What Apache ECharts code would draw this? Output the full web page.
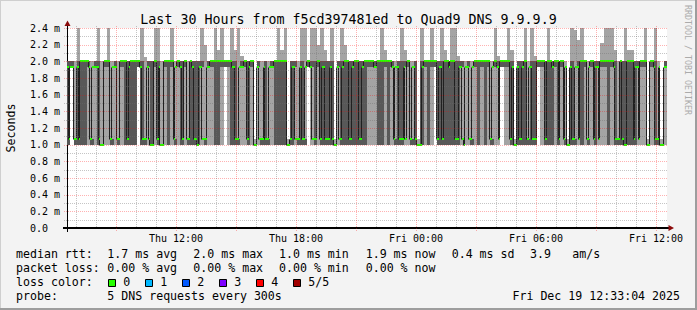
<!DOCTYPE html>
<html>
<head>
<meta charset="utf-8">
<script src="https://cdn.jsdelivr.net/npm/echarts@6/dist/echarts.min.js"></script>
<style>
html,body{margin:0;padding:0;background:#f3f3f3;}
#c{width:697px;height:310px;}
</style>
</head>
<body>
<div id="c"></div>
<script>
// ---------------- data ----------------
const titleText = 'Last 30 Hours from f5cd397481ed to Quad9 DNS 9.9.9.9';
const startMin = 393;   // Thu 06:33, minutes since Thu 00:00
const endMin = 2193;    // Fri 12:33
const stepMin = 10;
const dayNames = ['Thu', 'Fri'];
const xLabelTimes = [720, 1080, 1440, 1800, 2160];
const yTicks = [0, 0.2, 0.4, 0.6, 0.8, 1.0, 1.2, 1.4, 1.6, 1.8, 2.0, 2.2, 2.4];

// median rtt (ms), first 5 minutes of each step
const medianMs = [
 1.93,1.93,1.07,1.93,2.0,2.0,2.0,1.07,1.93,1.93, 1.0,2.0,2.0,1.07,1.93,1.07,2.0,2.0,1.07,2.0, 2.0,2.0,1.93,1.07,1.93,1.0,2.0,1.07,1.0,2.0,
 2.0,2.0,1.07,2.0,1.93,2.0,1.07,2.0,1.07,1.0, 1.93,1.07,1.93,2.0,2.0,2.0,2.0,2.0,2.0,2.0, 1.93,1.07,1.93,2.0,1.07,2.0,1.0,1.93,1.07,1.93,
 1.07,1.93,2.0,2.0,2.0,2.0,1.0,1.07,1.93,1.07, 1.93,1.07,2.0,1.93,1.07,2.0,1.07,1.93,1.07,1.93, 1.0,1.93,1.07,2.0,2.0,1.07,2.0,2.0,1.07,2.0,
 2.0,2.0,1.93,2.0,2.0,2.0,2.0,2.0,1.07,1.93, 1.07,1.93,2.0,1.07,1.93,1.0,1.0,2.0,2.0,2.0, 2.0,1.07,1.93,2.0,2.0,2.0,2.0,1.07,1.93,1.0,
 1.93,1.07,2.0,2.0,2.0,2.0,2.0,1.07,2.0,1.93, 2.0,2.0,2.0,1.07,1.0,1.93,1.07,2.0,1.07,1.93, 1.07,2.0,2.0,2.0,2.0,2.0,2.0,2.0,2.0,1.07,
 1.0,1.93,1.07,1.93,2.0,2.0,1.07,2.0,1.07,1.93, 2.0,2.0,2.0,2.0,1.93,1.07,2.0,1.0,2.0,2.0, 1.07,1.93,2.0,2.0,1.0,2.0,1.93,1.07,1.0,1.93
];
// median rtt (ms), last 5 minutes of each step
const medianLateMs = [
 1.07,1.93,1.07,1.07,2.0,2.0,1.93,1.93,1.93,1.07, 1.0,2.0,2.0,1.93,1.93,1.07,2.0,2.0,1.93,2.0, 2.0,2.0,1.07,1.07,1.07,1.0,2.0,1.93,1.0,2.0,
 2.0,2.0,1.93,2.0,1.07,2.0,1.07,1.93,1.07,1.93, 1.07,1.07,1.93,2.0,2.0,2.0,2.0,2.0,2.0,1.93, 1.07,1.93,1.93,2.0,1.93,2.0,1.0,1.07,1.07,1.07,
 1.93,1.93,2.0,2.0,2.0,2.0,1.0,1.93,1.07,1.07, 1.07,1.93,2.0,1.07,1.07,2.0,1.93,1.07,1.07,1.07, 1.0,1.07,1.93,2.0,1.07,1.93,2.0,1.07,1.93,2.0,
 2.0,2.0,1.93,2.0,2.0,2.0,2.0,1.93,1.93,1.07, 1.07,1.07,2.0,1.93,1.07,1.0,1.93,2.0,2.0,2.0, 2.0,1.93,1.07,2.0,1.93,2.0,1.07,1.93,1.07,1.93,
 1.07,1.93,2.0,2.0,2.0,2.0,2.0,1.93,2.0,1.07, 2.0,2.0,2.0,1.93,1.0,1.07,1.93,2.0,1.93,1.07, 1.07,2.0,2.0,1.07,2.0,1.93,2.0,1.07,2.0,1.93,
 1.0,1.07,1.93,1.07,2.0,2.0,1.93,2.0,1.93,1.07, 2.0,2.0,2.0,2.0,1.07,1.07,1.07,1.0,2.0,2.0, 1.93,1.07,2.0,2.0,1.0,2.0,1.07,1.93,1.0,1.93
];
// smallest ping (ms)
const minMs = [
 1.0,1.93,1.0,1.0,1.0,1.0,1.0,1.0,1.0,1.0, 1.0,1.0,1.0,1.0,1.0,1.0,1.0,1.0,1.0,1.0, 1.0,1.93,1.0,1.0,1.0,1.0,1.0,1.0,1.0,1.0,
 1.0,1.0,1.0,1.0,1.0,1.0,1.0,1.0,1.0,1.0, 1.0,1.0,1.0,1.0,1.0,1.0,1.0,1.93,1.0,1.0, 1.0,1.0,1.0,1.0,1.0,1.0,1.0,1.0,1.0,1.0,
 1.0,1.0,1.0,1.0,1.0,1.0,1.0,1.0,1.0,1.0, 1.0,1.0,1.93,1.0,1.0,1.0,1.0,1.0,1.0,1.0, 1.0,1.0,1.0,1.0,1.0,1.0,1.0,1.0,1.0,1.0,
 1.0,1.0,1.0,1.0,1.0,1.0,1.0,1.0,1.0,1.0, 1.0,1.0,1.0,1.0,1.0,1.0,1.0,1.0,1.0,1.0, 1.93,1.0,1.0,1.0,1.0,1.0,1.0,1.0,1.0,1.0,
 1.0,1.0,1.0,1.0,1.0,1.0,1.0,1.0,1.0,1.0, 1.93,1.0,1.0,1.0,1.0,1.0,1.0,1.0,1.0,1.0, 1.0,1.93,1.0,1.0,1.0,1.0,1.0,1.0,1.0,1.0,
 1.0,1.0,1.0,1.0,1.0,1.0,1.0,1.0,1.0,1.0, 1.0,1.0,1.0,1.0,1.0,1.0,1.0,1.0,1.0,1.0, 1.0,1.0,1.0,1.0,1.0,1.0,1.0,1.0,1.0,1.0
];
// second ping (ms)
const lowMs = [
 1.0,1.93,1.0,1.0,1.0,1.0,1.93,1.0,1.93,1.0, 1.0,1.93,1.93,1.0,1.93,1.0,1.93,1.0,1.0,1.0, 1.0,1.93,1.0,1.0,1.93,1.0,1.93,1.0,1.0,1.93,
 1.0,1.93,1.0,1.93,1.0,1.93,1.0,1.0,1.0,1.0, 1.93,1.0,1.93,1.93,1.0,1.0,1.93,1.93,1.93,1.0, 1.0,1.0,1.93,1.93,1.0,1.93,1.0,1.93,1.0,1.0,
 1.0,1.93,1.0,1.0,1.0,1.0,1.0,1.0,1.93,1.0, 1.0,1.0,1.93,1.93,1.0,1.93,1.0,1.0,1.0,1.0, 1.0,1.93,1.0,1.0,1.0,1.0,1.0,1.0,1.0,1.0,
 1.93,1.93,1.93,1.0,1.0,1.93,1.0,1.93,1.0,1.0, 1.0,1.93,1.93,1.0,1.0,1.0,1.0,1.93,1.0,1.93, 1.93,1.0,1.0,1.0,1.0,1.0,1.0,1.0,1.93,1.0,
 1.93,1.0,1.93,1.0,1.93,1.0,1.93,1.0,1.93,1.93, 1.93,1.93,1.93,1.0,1.0,1.0,1.0,1.0,1.0,1.0, 1.0,1.93,1.93,1.0,1.0,1.0,1.93,1.0,1.93,1.0,
 1.0,1.0,1.0,1.93,1.0,1.93,1.0,1.93,1.0,1.93, 1.93,1.93,1.0,1.93,1.0,1.0,1.0,1.0,1.0,1.0, 1.0,1.93,1.93,1.93,1.0,1.93,1.0,1.0,1.0,1.93
];
// fourth ping (ms)
const highMs = [
 2.0,2.0,1.07,2.0,2.0,2.0,2.0,1.07,2.0,2.0, 1.0,2.0,2.0,1.07,2.0,1.07,2.0,2.0,2.0,2.0, 2.0,2.0,2.0,1.07,2.0,2.0,2.0,2.0,1.0,2.0,
 2.0,2.0,1.07,2.0,2.0,2.0,1.07,2.0,2.0,2.0, 2.0,1.07,2.0,2.0,2.0,2.0,2.0,2.0,2.0,2.0, 2.0,1.07,2.0,2.0,2.0,2.0,1.0,2.0,1.07,2.0,
 1.07,2.0,2.0,2.0,2.0,2.0,1.0,2.0,2.0,1.07, 2.0,1.07,2.0,2.0,2.0,2.0,2.0,2.0,2.0,2.0, 1.0,2.0,2.0,2.0,2.0,2.0,2.0,2.0,2.0,2.0,
 2.0,2.0,2.0,2.0,2.0,2.0,2.0,2.0,1.07,2.0, 2.0,2.0,2.0,1.07,2.0,1.0,2.0,2.0,2.0,2.0, 2.0,2.0,2.0,2.0,2.0,2.0,2.0,2.0,2.0,1.0,
 2.0,1.07,2.0,2.0,2.0,2.0,2.0,1.07,2.0,2.0, 2.0,2.0,2.0,2.0,1.0,2.0,2.0,2.0,1.07,2.0, 2.0,2.0,2.0,2.0,2.0,2.0,2.0,2.0,2.0,1.07,
 1.0,2.0,1.07,2.0,2.0,2.0,1.07,2.0,2.0,2.0, 2.0,2.0,2.0,2.0,2.0,1.07,2.0,2.0,2.0,2.0, 2.0,2.0,2.0,2.0,1.0,2.0,2.0,1.07,1.0,2.0
];
// largest ping (ms)
const maxMs = [
 2.0,2.0,2.0,2.45,2.0,2.0,2.0,2.0,2.0,2.45, 2.0,2.0,2.45,2.0,2.0,2.0,2.0,2.0,2.0,2.0, 2.0,2.0,2.45,2.05,2.0,2.0,2.45,2.45,2.0,2.0,
 2.0,2.45,2.0,2.0,2.0,2.0,2.0,2.0,2.0,2.0, 2.45,2.2,2.0,2.0,2.45,2.14,2.45,2.0,2.0,2.45, 2.14,2.45,2.06,2.0,2.0,2.0,1.07,2.0,2.0,2.0,
 2.0,2.0,2.0,2.45,2.14,2.45,1.07,2.0,2.0,2.0, 2.45,2.45,2.0,2.45,2.45,2.2,2.45,2.14,2.0,2.45, 1.07,2.0,2.45,2.2,2.0,2.0,2.0,2.0,2.0,2.0,
 2.0,2.0,2.0,2.0,2.45,2.14,2.0,2.0,2.0,2.0, 2.45,2.14,2.0,2.0,2.0,1.07,2.45,2.0,2.0,2.45, 2.0,2.0,2.45,2.14,2.0,2.45,2.45,2.06,2.0,2.0,
 2.0,2.0,2.0,2.0,2.0,2.0,2.0,2.0,2.45,2.06, 2.0,2.0,2.45,2.14,1.07,2.0,2.0,2.45,2.0,2.45, 2.06,2.0,2.0,2.0,2.45,2.0,2.0,2.0,2.0,2.0,
 1.07,2.45,2.38,2.26,2.45,2.0,2.0,2.0,2.0,2.0, 2.22,2.45,2.45,2.45,2.14,2.0,2.0,2.45,2.14,2.14, 2.0,2.0,2.0,2.45,1.07,2.0,2.45,2.0,1.07,2.0
];

const lossLabels = ['0', '1', '2', '3', '4', '5/5'];
const lossColors = ['#26ff00', '#00b8ff', '#0059ff', '#7e00ff', '#ff0000', '#a10000'];
const rttStats = ['1.7 ms avg', '2.0 ms max', '1.0 ms min', '1.9 ms now', '0.4 ms sd', '3.9', 'am/s'];
const lossStats = ['0.00 % avg', '0.00 % max', '0.00 % min', '0.00 % now'];
const probeText = '5 DNS requests every 300s';
const stampText = 'Fri Dec 19 12:33:04 2025';

// ---------------- chart ----------------
const MONO = '"DejaVu Sans Mono", monospace';
const MAJOR = 'rgba(255,0,0,0.3)';
const MINOR = 'rgba(110,110,110,0.4)';
const chart = echarts.init(document.getElementById('c'), null, { renderer: 'svg' });

function clockLabel(v) {
  const d = Math.floor(v / 1440);
  const m = v - d * 1440;
  const hh = String(Math.floor(m / 60)).padStart(2, '0');
  const mm = String(m % 60).padStart(2, '0');
  return dayNames[d] + ' ' + hh + ':' + mm;
}

const hourTicks = [];
for (let t = Math.ceil(startMin / 60) * 60; t <= endMin; t += 60) hourTicks.push(t);
const hGrid = [];
for (let k = 1; k <= 24; k++) hGrid.push([startMin, k / 10, k % 2 === 0 ? 1 : 0]);
const vGrid = hourTicks.map(t => [t, 0, t % 180 === 0 ? 1 : 0]);

const smokeData = minMs.map((v, i) => [startMin + i * stepMin, v, lowMs[i], highMs[i], maxMs[i]]);
const medData = medianMs.map((v, i) => [startMin + i * stepMin, v, medianLateMs[i], i + 1 < medianMs.length ? medianMs[i + 1] : medianLateMs[i]]);

function colX(api, t) { return Math.round(api.coord([t, 0])[0]); }
function rowY(api, v) { return Math.round(api.coord([startMin, v])[1]); }

function renderSmoke(params, api) {
  const t0 = api.value(0);
  const xa = colX(api, t0), xb = colX(api, t0 + stepMin);
  const children = [];
  const y1 = rowY(api, api.value(1)), y5 = rowY(api, api.value(4));
  if (y1 > y5) children.push({ type: 'rect', shape: { x: xa, y: y5, width: xb - xa, height: y1 - y5 }, style: { fill: '#a4a4a4' } });
  const y2 = rowY(api, api.value(2)), y4 = rowY(api, api.value(3));
  if (y2 > y4) children.push({ type: 'rect', shape: { x: xa, y: y4, width: xb - xa, height: y2 - y4 }, style: { fill: '#585858' } });
  return { type: 'group', children };
}

function seg(x1, y1, x2, y2) {
  return { type: 'line', shape: { x1, y1, x2, y2 }, style: { stroke: '#202020', lineWidth: 1 } };
}

function renderMedianLine(params, api) {
  const t0 = api.value(0);
  const xa = colX(api, t0), xm = colX(api, t0 + stepMin / 2), xb = colX(api, t0 + stepMin);
  const y1 = rowY(api, api.value(1)) + 0.5;
  const y2 = rowY(api, api.value(2)) + 0.5;
  const yn = rowY(api, api.value(3)) + 0.5;
  const children = [seg(xa, y1, xm, y1), seg(xm, y2, xb, y2)];
  if (y2 !== y1) children.push(seg(xm - 0.5, y1, xm - 0.5, y2));
  if (yn !== y2 && params.dataIndex < medianMs.length - 1) children.push(seg(xb - 0.5, y2, xb - 0.5, yn));
  return { type: 'group', children };
}

function renderLossColor(params, api) {
  const t0 = api.value(0);
  const xa = colX(api, t0), xm = colX(api, t0 + stepMin / 2), xb = colX(api, t0 + stepMin);
  const y1 = rowY(api, api.value(1)), y2 = rowY(api, api.value(2));
  return {
    type: 'group', children: [
      { type: 'rect', shape: { x: xa, y: y1 - 1, width: xm - xa, height: 2 }, style: { fill: lossColors[0] } },
      { type: 'rect', shape: { x: xm, y: y2 - 1, width: xb - xm, height: 2 }, style: { fill: lossColors[0] } }
    ]
  };
}

function renderHGrid(params, api) {
  const cs = params.coordSys;
  const y = Math.round(api.coord([startMin, api.value(1)])[1]) + 0.5;
  return { type: 'line', shape: { x1: cs.x - 3, y1: y, x2: cs.x + cs.width + 1, y2: y },
    style: { stroke: api.value(2) ? MAJOR : MINOR, lineWidth: 1, lineDash: [1, 1] } };
}

function renderVGrid(params, api) {
  const cs = params.coordSys;
  const major = api.value(2);
  const x = Math.round(api.coord([api.value(0), 0])[0]) + 0.5;
  return { type: 'line', shape: { x1: x, y1: cs.y - 2, x2: x, y2: cs.y + cs.height + (major ? 4 : 0) },
    style: { stroke: major ? MAJOR : MINOR, lineWidth: 1, lineDash: [1, 1] } };
}

chart.setOption({
  animation: false,
  backgroundColor: '#f3f3f3',
  textStyle: { fontFamily: MONO },
  grid: { left: 67, right: 30, top: 28, bottom: 82, show: true, backgroundColor: '#ffffff', borderWidth: 0, outerBoundsMode: 'none' },
  xAxis: {
    type: 'value', min: startMin, max: endMin,
    axisLine: { show: true, lineStyle: { color: '#000', width: 2 } },
    axisTick: { show: false },
    axisLabel: { customValues: xLabelTimes, formatter: clockLabel, fontFamily: MONO, fontSize: 10, color: '#000', margin: 5 },
    splitLine: { show: false }
  },
  yAxis: {
    type: 'value', min: 0, max: 2.4, interval: 0.2,
    axisLine: { show: true, lineStyle: { color: '#000', width: 1 } },
    axisTick: { show: false },
    axisLabel: {
      fontFamily: MONO, fontSize: 10, color: '#000', align: 'left', margin: 37,
      formatter: v => (Math.abs(v) < 1e-9 ? '0.0' : v.toFixed(1) + ' m')
    },
    splitLine: { show: false }
  },
  series: [
    { type: 'custom', name: 'smoke', renderItem: renderSmoke, data: smokeData, encode: { x: 0, y: [1, 4] }, clip: true, silent: true, z: 2 },
    { type: 'custom', name: 'median', renderItem: renderMedianLine, data: medData, encode: { x: 0, y: [1, 2] }, clip: true, silent: true, z: 3 },
    { type: 'custom', name: 'loss 0', renderItem: renderLossColor, data: medData, encode: { x: 0, y: [1, 2] }, clip: true, silent: true, z: 4 },
    { type: 'custom', name: 'hgrid', renderItem: renderHGrid, data: hGrid, encode: { x: 0, y: 1 }, clip: false, silent: true, z: 5 },
    { type: 'custom', name: 'vgrid', renderItem: renderVGrid, data: vGrid, encode: { x: 0, y: 1 }, clip: false, silent: true, z: 5 }
  ]
});

// decorations: frame, axis extensions, arrows, texts
const pO = chart.convertToPixel({ gridIndex: 0 }, [startMin, 0]);
const pTop = chart.convertToPixel({ gridIndex: 0 }, [startMin, 2.4]);
const pEnd = chart.convertToPixel({ gridIndex: 0 }, [endMin, 0]);
const ax = Math.round(pO[0]) + 0.5, ay = Math.round(pO[1]);
const ex = Math.round(pEnd[0]);
const arrowColor = '#8b0a0a';

function txt(x, y, s, opts) {
  opts = opts || {};
  return {
    type: 'text', x: x, y: y, rotation: opts.rotation || 0, silent: true, z: 30,
    style: {
      text: s, x: 0, y: 0, fill: opts.color || '#000',
      font: (opts.size || 11.6) + 'px ' + MONO,
      textAlign: opts.align || 'left', align: opts.align || 'left',
      textVerticalAlign: 'middle', verticalAlign: 'middle'
    }
  };
}

const g = [];
// frame
g.push({ type: 'rect', shape: { x: 0, y: 0, width: 697, height: 1 }, style: { fill: '#cfcfcf' }, silent: true });
g.push({ type: 'rect', shape: { x: 0, y: 0, width: 1, height: 310 }, style: { fill: '#cfcfcf' }, silent: true });
g.push({ type: 'rect', shape: { x: 0, y: 308, width: 697, height: 2 }, style: { fill: '#9d9d9d' }, silent: true });
g.push({ type: 'rect', shape: { x: 695, y: 0, width: 2, height: 310 }, style: { fill: '#9d9d9d' }, silent: true });
// axis extensions
g.push({ type: 'line', shape: { x1: ax, y1: Math.round(pTop[1]), x2: ax, y2: 25 }, style: { stroke: '#000', lineWidth: 1 }, silent: true, z: 20 });
g.push({ type: 'line', shape: { x1: ax, y1: ay, x2: ax, y2: ay + 4 }, style: { stroke: '#000', lineWidth: 1 }, silent: true, z: 20 });
g.push({ type: 'line', shape: { x1: ax - 4.5, y1: ay, x2: ax, y2: ay }, style: { stroke: '#000', lineWidth: 2 }, silent: true, z: 20 });
g.push({ type: 'line', shape: { x1: ex, y1: ay, x2: ex + 2, y2: ay }, style: { stroke: '#000', lineWidth: 2 }, silent: true, z: 20 });
// arrows
g.push({ type: 'polygon', shape: { points: [[ax, 20.5], [ax - 3, 26], [ax + 3, 26]] }, style: { fill: arrowColor }, silent: true, z: 21 });
g.push({ type: 'polygon', shape: { points: [[ex + 7, ay], [ex + 1.5, ay - 3], [ex + 1.5, ay + 3]] }, style: { fill: arrowColor }, silent: true, z: 21 });
// title & side texts
g.push(txt(348.5, 19, titleText, { size: 13.3, align: 'center' }));
g.push(txt(11, 128, 'Seconds', { rotation: Math.PI / 2, align: 'center' }));
g.push(txt(688, 60, 'RRDTOOL / TOBI OETIKER', { rotation: -Math.PI / 2, align: 'center', size: 8.3, color: '#ababab' }));
// legend rows
const statX = [107.3, 193.3, 279, 365.7, 451.7, 530, 572.3];
g.push(txt(16, 254, 'median rtt:'));
rttStats.forEach((s, i) => g.push(txt(statX[i], 254, s)));
g.push(txt(16, 268, 'packet loss:'));
lossStats.forEach((s, i) => g.push(txt(statX[i], 268, s)));
g.push(txt(16, 282, 'loss color:'));
lossLabels.forEach((s, i) => {
  const bx = 108 + i * 37;
  g.push({ type: 'rect', shape: { x: bx + 0.5, y: 279.5, width: 7, height: 7 }, style: { fill: lossColors[i], stroke: '#000', lineWidth: 1 }, silent: true });
  g.push(txt(bx + 15.3, 282, s));
});
g.push(txt(16, 296, 'probe:'));
g.push(txt(107.3, 296, probeText));
g.push(txt(680, 296, stampText, { align: 'right' }));

chart.setOption({ graphic: g });
</script>
</body>
</html>
